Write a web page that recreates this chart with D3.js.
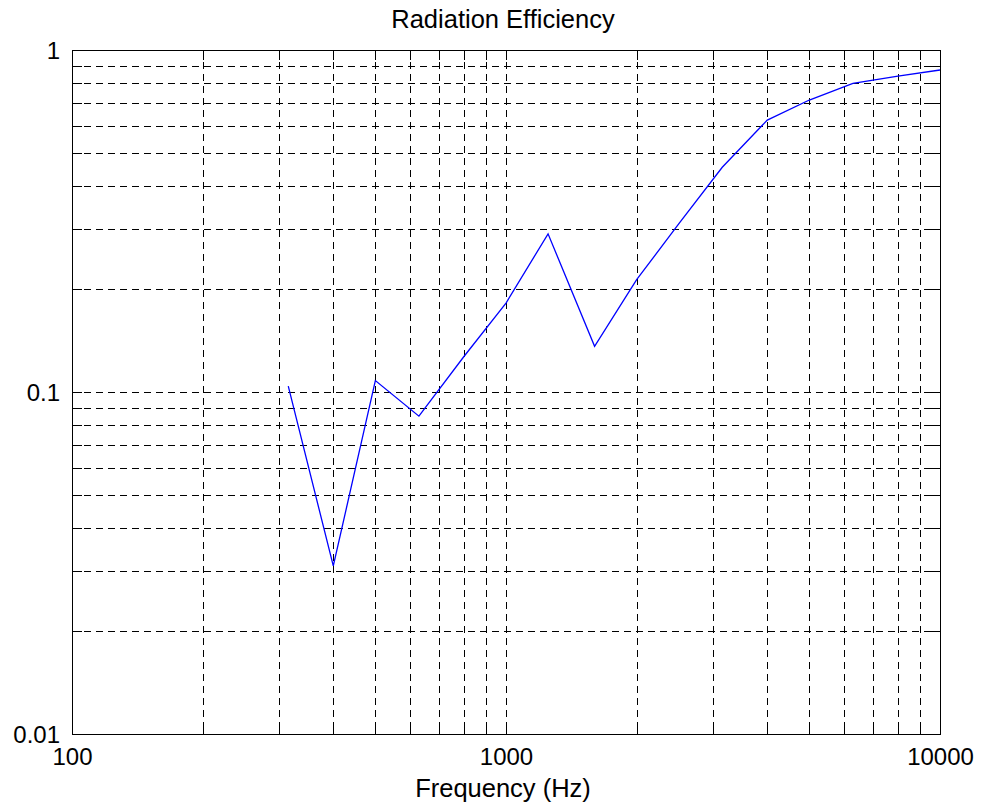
<!DOCTYPE html>
<html>
<head>
<meta charset="utf-8">
<script src="https://cdn.jsdelivr.net/npm/d3@7"></script>
<style>
  html, body { margin: 0; padding: 0; background: #fff; }
  svg { display: block; }
  text { font-family: "Liberation Sans", Arial, sans-serif; fill: #000; }
</style>
</head>
<body>
<svg id="chart" width="982" height="812"></svg>
<script>
// Data (1/3-octave band centre frequencies, radiation efficiency)
const frequencies = [315, 400, 500, 630, 800, 1000, 1250, 1600, 2000, 2500, 3150, 4000, 5000, 6300, 8000, 10000];
const efficiency  = [0.104, 0.031, 0.108, 0.085, 0.127, 0.182, 0.290, 0.136, 0.213, 0.310, 0.454, 0.624, 0.714, 0.799, 0.839, 0.874];
const xTickValues = [100, 1000, 10000];
const xTickLabels = ["100", "1000", "10000"];
const yTickValues = [0.01, 0.1, 1];
const yTickLabels = ["0.01", "0.1", "1"];
const titleText = "Radiation Efficiency";
const xLabelText = "Frequency (Hz)";

const svg = d3.select("#chart");
const L = 72, R = 940, T = 50, B = 734;

const x = d3.scaleLog().domain([100, 10000]).range([L, R]);
const y = d3.scaleLog().domain([0.01, 1]).range([B, T]);

// minor + major grid values
const xGrid = [];
for (let d = 100; d < 10000; d *= 10) for (let k = 1; k < 10; k++) xGrid.push(d * k);
xGrid.push(10000);
const yGrid = [];
for (let d = 0.01; d < 0.999; d *= 10) for (let k = 1; k < 10; k++) yGrid.push(+(d * k).toPrecision(3));
yGrid.push(1);

const g = svg.append("g").attr("shape-rendering", "crispEdges");
const dash = "7,5";
// Grid lines (skip those lying on the frame)
g.selectAll(".vgrid").data(xGrid.filter(v => v > 100 && v < 10000)).join("line")
  .attr("x1", d => Math.round(x(d)) + 0.5).attr("x2", d => Math.round(x(d)) + 0.5)
  .attr("y1", T).attr("y2", B)
  .attr("stroke", "#000").attr("stroke-width", 1).attr("stroke-dasharray", dash);
g.selectAll(".hgrid").data(yGrid.filter(v => v > 0.01 && v < 1)).join("line")
  .attr("y1", d => Math.round(y(d)) + 0.5).attr("y2", d => Math.round(y(d)) + 0.5)
  .attr("x1", L).attr("x2", R)
  .attr("stroke", "#000").attr("stroke-width", 1).attr("stroke-dasharray", dash);

// Axes with inward ticks, all four sides
const tl = 10;
const axB = d3.axisBottom(x).tickValues(xGrid).tickSizeInner(-tl).tickSizeOuter(0)
  .tickFormat(d => { const i = xTickValues.indexOf(d); return i >= 0 ? xTickLabels[i] : ""; });
const axT = d3.axisTop(x).tickValues(xGrid).tickSizeInner(-tl).tickSizeOuter(0).tickFormat("");
const axLft = d3.axisLeft(y).tickValues(yGrid).tickSizeInner(-tl).tickSizeOuter(0)
  .tickFormat(d => { const i = yTickValues.findIndex(v => Math.abs(v - d) < 1e-9); return i >= 0 ? yTickLabels[i] : ""; });
const axRgt = d3.axisRight(y).tickValues(yGrid).tickSizeInner(-tl).tickSizeOuter(0).tickFormat("");

function styleAxis(sel) {
  sel.select(".domain").remove();
  sel.selectAll("line").attr("stroke", "#000").attr("stroke-width", 1).attr("shape-rendering", "crispEdges");
  sel.selectAll("text").attr("font-size", "24px").attr("font-family", '"Liberation Sans", Arial, sans-serif').attr("fill", "#000");
}
const gb = svg.append("g").attr("transform", `translate(0,${B})`).call(axB).call(styleAxis);
gb.selectAll("text").attr("dy", null).attr("y", 31);
svg.append("g").attr("transform", `translate(0,${T})`).call(axT).call(styleAxis);
const gl = svg.append("g").attr("transform", `translate(${L},0)`).call(axLft).call(styleAxis);
gl.selectAll("text").attr("x", -12).attr("dy", "0.35em");
svg.append("g").attr("transform", `translate(${R},0)`).call(axRgt).call(styleAxis);

// Frame
svg.append("rect").attr("x", L + 0.5).attr("y", T + 0.5).attr("width", R - L).attr("height", B - T)
  .attr("fill", "none").attr("stroke", "#000").attr("stroke-width", 1).attr("shape-rendering", "crispEdges");

// Data line
const line = d3.line().x((d, i) => x(frequencies[i])).y(d => y(d));
svg.append("path").datum(efficiency).attr("d", line)
  .attr("fill", "none").attr("stroke", "#0000ff").attr("stroke-width", 1.3);

// Title and label
svg.append("text").attr("x", (L + R) / 2 - 3).attr("y", 28).attr("text-anchor", "middle")
  .attr("font-size", "25.5px").text(titleText);
svg.append("text").attr("x", (L + R) / 2 - 3).attr("y", 797).attr("text-anchor", "middle")
  .attr("font-size", "25.5px").text(xLabelText);
</script>
</body>
</html>
